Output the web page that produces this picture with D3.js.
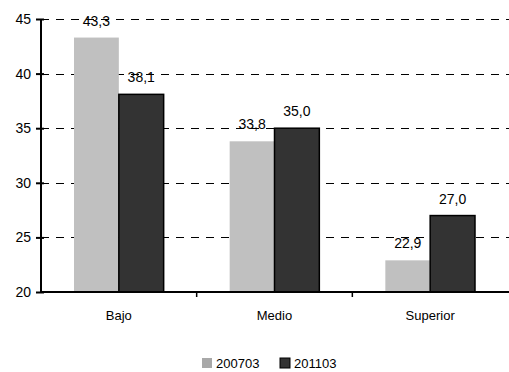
<!DOCTYPE html>
<html>
<head>
<meta charset="utf-8">
<script src="https://cdn.jsdelivr.net/npm/d3@7"></script>
<style>
  html, body { margin: 0; padding: 0; background: #fff; }
  svg { display: block; font-family: Arial, "Liberation Sans", sans-serif; }
</style>
</head>
<body>
<svg id="chart" width="509" height="372"></svg>
<script>
const categories = ["Bajo", "Medio", "Superior"];
const seriesNames = ["200703", "201103"];
const values200703 = [43.3, 33.8, 22.9];
const values201103 = [38.1, 35.0, 27.0];
const yTicks = [20, 25, 30, 35, 40, 45];

const seriesValues = [values200703, values201103];
const colors = ["#c0c0c0", "#333333"];
const legendColors = ["#a8a8a8", "#333333"];

const svg = d3.select("#chart");
const plotLeft = 41, plotRight = 508, plotTop = 19, plotBottom = 292;

const x0 = d3.scaleBand().domain(categories).range([plotLeft, plotRight]);
const groupOffset = x0.bandwidth() * 0.212;
const groupWidth = x0.bandwidth() * 0.576;
const x1 = d3.scaleBand().domain(seriesNames).range([0, groupWidth]);
const y = d3.scaleLinear().domain([20, 45]).range([plotBottom, plotTop]);

// gridlines
svg.append("g").selectAll("line")
  .data(yTicks.filter(t => t > 20))
  .join("line")
  .attr("x1", plotLeft).attr("x2", 509)
  .attr("y1", d => Math.round(y(d)) + 0.5).attr("y2", d => Math.round(y(d)) + 0.5)
  .attr("stroke", "#000").attr("stroke-width", 1)
  .attr("stroke-dasharray", "8,7");

// bars
const fmt = v => d3.format(".1f")(v).replace(".", ",");
categories.forEach((c, i) => {
  seriesNames.forEach((s, j) => {
    const v = seriesValues[j][i];
    const bx = x0(c) + groupOffset + x1(s);
    const r = svg.append("rect")
      .attr("x", bx).attr("y", y(v))
      .attr("width", x1.bandwidth()).attr("height", y(20) - y(v))
      .attr("fill", colors[j]);
    if (j === 1) r.attr("stroke", "#000").attr("stroke-width", 1.5);
  });
});

// y axis
const yAxis = d3.axisLeft(y).tickValues(yTicks).tickSize(5).tickPadding(5);
const gy = svg.append("g").attr("transform", `translate(${plotLeft},0)`).call(yAxis);
gy.select(".domain").attr("stroke", "#000").attr("stroke-width", 2).attr("d", `M0,${plotTop}V${plotBottom}`);
gy.selectAll(".tick line").attr("stroke", "#000").attr("stroke-width", 2).attr("x1", 3);
gy.selectAll(".tick text").attr("font-size", 14).attr("fill", "#000")
  .attr("font-family", "Arial, 'Liberation Sans', sans-serif");

// x axis
const boundaries = categories.map(c => x0(c)).concat([plotRight]);
const gx = svg.append("g");
gx.append("line").attr("x1", plotLeft - 1).attr("x2", 509).attr("y1", plotBottom).attr("y2", plotBottom)
  .attr("stroke", "#000").attr("stroke-width", 2);
gx.selectAll("line.tk").data(boundaries.slice(1, 3)).join("line").attr("class", "tk")
  .attr("x1", d => d).attr("x2", d => d).attr("y1", plotBottom).attr("y2", plotBottom + 5)
  .attr("stroke", "#000").attr("stroke-width", 1.5);
gx.selectAll("text").data(categories).join("text")
  .attr("x", d => x0(d) + x0.bandwidth() / 2).attr("y", 320)
  .attr("text-anchor", "middle").attr("font-size", 13).attr("fill", "#000")
  .text(d => d);

// value labels
categories.forEach((c, i) => {
  seriesNames.forEach((s, j) => {
    const v = seriesValues[j][i];
    const cx = x0(c) + groupOffset + x1(s) + x1.bandwidth() / 2;
    svg.append("text").attr("x", cx).attr("y", y(v) - 12)
      .attr("text-anchor", "middle").attr("font-size", 14).attr("fill", "#000")
      .text(fmt(v));
  });
});

// legend
const legendX = [202, 280];
seriesNames.forEach((s, j) => {
  const g = svg.append("g");
  const rr = g.append("rect").attr("x", legendX[j]).attr("y", 358).attr("width", 10).attr("height", 10)
    .attr("fill", legendColors[j]);
  if (j === 1) rr.attr("stroke", "#000").attr("stroke-width", 1);
  g.append("text").attr("x", legendX[j] + 14).attr("y", 368)
    .attr("font-size", 13).attr("fill", "#000").text(s);
});
</script>
</body>
</html>
